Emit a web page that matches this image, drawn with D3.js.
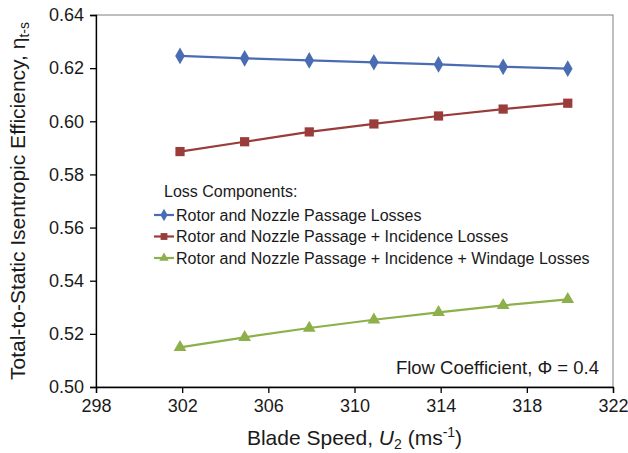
<!DOCTYPE html>
<html>
<head>
<meta charset="utf-8">
<script src="https://cdn.jsdelivr.net/npm/d3@7"></script>
<style>
  body { margin: 0; background: #fff; }
  text { font-family: "Liberation Sans", Arial, sans-serif; fill: #1a1a1a; }
</style>
</head>
<body>
<div class="container"></div>
<script>
// blade speed U2 (m/s)
const speeds = [301.9, 304.9, 307.9, 310.9, 313.9, 316.9, 319.9];
// total-to-static efficiency for each loss combination
const passage = [0.6246, 0.6237, 0.6229, 0.6222, 0.6214, 0.6205, 0.6198];
const incidence = [0.5886, 0.5923, 0.5960, 0.5990, 0.6020, 0.6046, 0.6068];
const windage = [0.5149, 0.5187, 0.5222, 0.5253, 0.5281, 0.5307, 0.5330];
const seriesNames = [
  'Rotor and Nozzle Passage Losses',
  'Rotor and Nozzle Passage + Incidence Losses',
  'Rotor and Nozzle Passage + Incidence + Windage Losses'
];
const xTicks = [298, 302, 306, 310, 314, 318, 322];
const yTicks = [0.50, 0.52, 0.54, 0.56, 0.58, 0.60, 0.62, 0.64];

const width = 628;
const height = 453;
const margin = {top: 15, right: 15, bottom: 66, left: 96};

const svg = d3.select('.container')
              .append('svg')
              .attr('width', width)
              .attr('height', height);

const x = d3.scaleLinear()
            .domain([298, 322])
            .range([margin.left, width - margin.right]);
const y = d3.scaleLinear()
            .domain([0.50, 0.64])
            .range([height - margin.bottom, margin.top]);

// plot area border (top / right in grey)
svg.append('rect')
   .attr('x', x(298))
   .attr('y', y(0.64))
   .attr('width', x(322) - x(298))
   .attr('height', y(0.50) - y(0.64))
   .attr('fill', 'none')
   .attr('stroke', '#7f7f7f')
   .attr('stroke-width', 1);

const xAxis = svg.append('g')
   .attr('transform', `translate(0,${y(0.50)})`)
   .call(d3.axisBottom(x).tickValues(xTicks).tickSize(6).tickPadding(6).tickFormat(d3.format('d')));
const yAxis = svg.append('g')
   .attr('transform', `translate(${x(298)},0)`)
   .call(d3.axisLeft(y).tickValues(yTicks).tickSize(6).tickPadding(6).tickFormat(d3.format('.2f')));

[xAxis, yAxis].forEach(a => {
  a.select('.domain').attr('stroke', '#000').attr('stroke-width', 1.3);
  a.selectAll('.tick line').attr('stroke', '#000').attr('stroke-width', 1.3);
  a.selectAll('.tick text')
   .attr('font-family', '"Liberation Sans", Arial, sans-serif')
   .attr('font-size', 18)
   .attr('fill', '#1a1a1a');
});

const series = [
  {name: seriesNames[0], values: passage, color: '#4a6cb3', symbol: d3.symbolDiamond, size: 80},
  {name: seriesNames[1], values: incidence, color: '#993c3a', symbol: d3.symbolSquare, size: 85},
  {name: seriesNames[2], values: windage, color: '#8db04a', symbol: d3.symbolTriangle, size: 70}
];

const line = d3.line()
               .x(d => x(d[0]))
               .y(d => y(d[1]));

series.forEach(s => {
  const pts = speeds.map((u, i) => [u, s.values[i]]);
  svg.append('path')
     .datum(pts)
     .attr('d', line)
     .attr('fill', 'none')
     .attr('stroke', s.color)
     .attr('stroke-width', 2.2);
  svg.append('g')
     .selectAll('path')
     .data(pts)
     .enter()
     .append('path')
     .attr('transform', d => `translate(${x(d[0])},${y(d[1])})`)
     .attr('d', d3.symbol().type(s.symbol).size(s.size))
     .attr('fill', s.color);
});

// legend
const legend = svg.append('g').attr('transform', 'translate(154,0)');
legend.append('text')
      .attr('x', 10)
      .attr('y', 197)
      .attr('font-size', 16)
      .text('Loss Components:');
series.forEach((s, i) => {
  const cy = 215 + i * 21.5;
  legend.append('line')
        .attr('x1', 0).attr('x2', 20)
        .attr('y1', cy).attr('y2', cy)
        .attr('stroke', s.color)
        .attr('stroke-width', 2.2);
  legend.append('path')
        .attr('transform', `translate(10,${cy})`)
        .attr('d', d3.symbol().type(s.symbol).size(s.size * 0.55))
        .attr('fill', s.color);
  legend.append('text')
        .attr('x', 22)
        .attr('y', cy + 5.5)
        .attr('font-size', 16)
        .text(s.name);
});

// annotation
svg.append('text')
   .attr('x', 599)
   .attr('y', 374)
   .attr('text-anchor', 'end')
   .attr('font-size', 18.5)
   .text('Flow Coefficient, \u03A6 = 0.4');

// x axis title
const xt = svg.append('text')
   .attr('x', (x(298) + x(322)) / 2)
   .attr('y', 445)
   .attr('text-anchor', 'middle')
   .attr('font-size', 21);
xt.append('tspan').text('Blade Speed, ');
xt.append('tspan').attr('font-style', 'italic').text('U');
xt.append('tspan').attr('font-size', 14).attr('dy', 4).text('2');
xt.append('tspan').attr('dy', -4).text(' (ms');
xt.append('tspan').attr('font-size', 14).attr('dy', -8).text('-1');
xt.append('tspan').attr('dy', 8).text(')');

// y axis title
const yt = svg.append('text')
   .attr('transform', `translate(25,201) rotate(-90)`)
   .attr('text-anchor', 'middle')
   .attr('font-size', 21);
yt.append('tspan').text('Total-to-Static Isentropic Efficiency, \u03B7');
yt.append('tspan').attr('font-size', 14).attr('dy', 4).text('t-s');
</script>
</body>
</html>
